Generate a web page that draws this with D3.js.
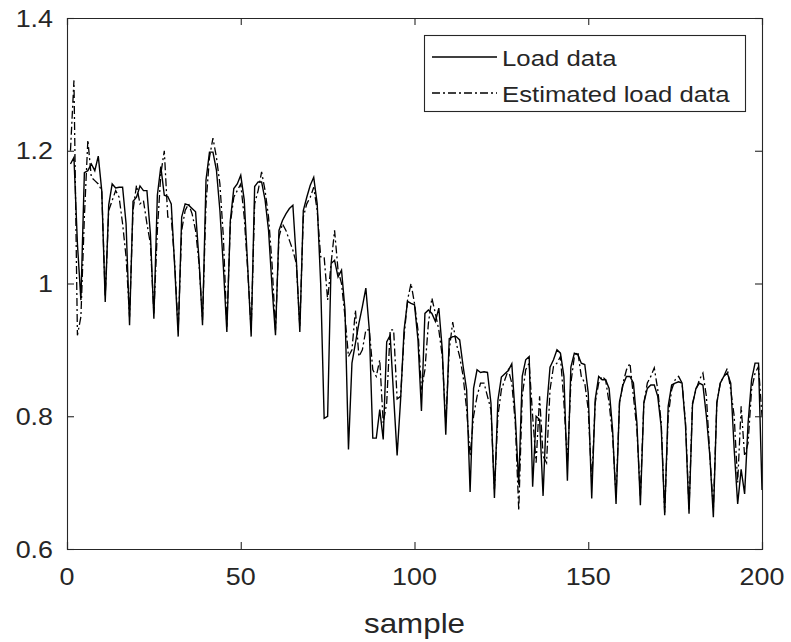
<!DOCTYPE html>
<html>
<head>
<meta charset="utf-8">
<script src="https://cdn.jsdelivr.net/npm/d3@7"></script>
<style>
  html, body { margin: 0; padding: 0; background: #fff; }
  svg { display: block; }
  text { font-family: "Liberation Sans", Arial, Helvetica, sans-serif; fill: #262626; }
</style>
</head>
<body>
<svg id="chart" width="791" height="642"></svg>
<script>
// ---------------- data ----------------
const samples = d3.range(1, 201);
const loadData = [
1.18,1.19,1.06,0.975,1.167,1.17,1.18,1.17,1.192,1.14,
0.972,1.118,1.15,1.144,1.145,1.145,1.09,0.937,1.124,1.13,
1.147,1.14,1.14,1.075,0.947,1.133,1.176,1.133,1.131,1.12,
1.025,0.92,1.10,1.12,1.118,1.113,1.108,1.035,0.937,1.156,
1.198,1.198,1.171,1.11,1.025,0.927,1.095,1.143,1.15,1.163,
1.126,1.025,0.92,1.146,1.153,1.153,1.126,1.08,0.995,0.922,
1.08,1.095,1.105,1.113,1.118,1.035,0.927,1.11,1.13,1.148,
1.16,1.12,1.0,0.797,0.80,1.03,1.035,1.01,1.02,0.96,
0.75,0.88,0.91,0.94,0.965,0.993,0.93,0.767,0.767,0.81,
0.765,0.912,0.922,0.83,0.741,0.825,0.93,0.973,0.97,0.968,
0.915,0.808,0.955,0.96,0.955,0.943,0.963,0.90,0.772,0.917,
0.92,0.92,0.915,0.875,0.84,0.686,0.842,0.87,0.866,0.867,
0.866,0.82,0.677,0.824,0.859,0.864,0.869,0.879,0.80,0.697,
0.86,0.885,0.89,0.694,0.80,0.795,0.68,0.81,0.874,0.885,
0.90,0.895,0.86,0.703,0.874,0.895,0.893,0.88,0.878,0.835,
0.676,0.825,0.86,0.855,0.855,0.842,0.78,0.668,0.822,0.847,
0.86,0.86,0.85,0.79,0.666,0.82,0.842,0.847,0.847,0.83,
0.784,0.651,0.815,0.847,0.85,0.852,0.85,0.785,0.653,0.817,
0.842,0.85,0.847,0.80,0.74,0.648,0.82,0.85,0.86,0.865,
0.85,0.75,0.668,0.72,0.683,0.79,0.855,0.88,0.88,0.689
];
const estimatedData = [
1.20,1.306,0.922,0.95,1.10,1.216,1.16,1.155,1.15,1.14,
0.98,1.11,1.125,1.14,1.13,1.09,1.04,0.95,1.11,1.148,
1.12,1.125,1.09,1.06,0.955,1.08,1.165,1.20,1.10,1.10,
1.03,0.93,1.08,1.11,1.12,1.105,1.08,1.03,0.945,1.12,
1.19,1.219,1.19,1.15,1.07,0.935,1.09,1.13,1.14,1.15,
1.10,1.02,0.93,1.12,1.14,1.168,1.14,1.10,1.03,0.93,
1.07,1.09,1.08,1.065,1.05,1.03,0.935,1.10,1.12,1.13,
1.145,1.11,1.04,1.04,0.975,1.03,1.08,1.02,1.00,0.95,
0.89,0.90,0.96,0.89,0.90,0.93,0.93,0.87,0.86,0.885,
0.79,0.82,0.93,0.93,0.826,0.83,0.92,0.975,1.00,0.97,
0.93,0.84,0.87,0.94,0.978,0.955,0.93,0.89,0.79,0.90,
0.942,0.91,0.89,0.86,0.81,0.74,0.80,0.83,0.85,0.85,
0.83,0.81,0.69,0.80,0.84,0.855,0.87,0.85,0.79,0.658,
0.83,0.87,0.88,0.80,0.73,0.83,0.74,0.73,0.84,0.875,
0.88,0.89,0.82,0.73,0.85,0.89,0.897,0.86,0.85,0.81,
0.70,0.82,0.85,0.86,0.855,0.82,0.77,0.68,0.82,0.85,
0.87,0.88,0.83,0.78,0.68,0.82,0.85,0.86,0.873,0.84,
0.79,0.655,0.80,0.84,0.855,0.86,0.85,0.79,0.66,0.82,
0.84,0.855,0.865,0.83,0.74,0.66,0.82,0.85,0.86,0.872,
0.84,0.80,0.70,0.815,0.74,0.76,0.84,0.865,0.875,0.80
];
const xTicks = [0, 50, 100, 150, 200];
const xTickLabels = ["0", "50", "100", "150", "200"];
const yTicks = [0.6, 0.8, 1.0, 1.2, 1.4];
const yTickLabels = ["0.6", "0.8", "1", "1.2", "1.4"];
const seriesNames = ["Load data", "Estimated load data"];
const xLabel = "sample";

// ---------------- layout ----------------
const L = 67, R = 762, T = 18, B = 549;
const axisColor = "#262626";
const stretch = 1.12; // horizontal stretch of the original picture's text

const svg = d3.select("#chart");
const x = d3.scaleLinear().domain([0, 200]).range([L, R]);
const y = d3.scaleLinear().domain([0.6, 1.4]).range([B, T]);

// lines
const line = d3.line().x((d, i) => x(samples[i])).y(d => y(d));
svg.append("path").datum(loadData)
  .attr("d", line).attr("fill", "none").attr("stroke", "#000")
  .attr("stroke-width", 1.4).attr("stroke-linejoin", "miter");
svg.append("path").datum(estimatedData)
  .attr("d", line).attr("fill", "none").attr("stroke", "#000")
  .attr("stroke-width", 1.3).attr("stroke-dasharray", "8,3,2,3");

// axes (ticks inward, box)
const tk = 7;
const gB = svg.append("g").attr("transform", `translate(0,${B})`)
  .call(d3.axisBottom(x).tickValues(xTicks).tickSize(-tk).tickFormat(""));
const gT = svg.append("g").attr("transform", `translate(0,${T})`)
  .call(d3.axisTop(x).tickValues(xTicks).tickSize(-tk).tickFormat(""));
const gL = svg.append("g").attr("transform", `translate(${L},0)`)
  .call(d3.axisLeft(y).tickValues(yTicks).tickSize(-tk).tickFormat(""));
const gR = svg.append("g").attr("transform", `translate(${R},0)`)
  .call(d3.axisRight(y).tickValues(yTicks).tickSize(-tk).tickFormat(""));
[gB, gT, gL, gR].forEach(g => {
  g.select(".domain").attr("stroke", axisColor).attr("stroke-width", 1.1);
  g.selectAll(".tick line").attr("stroke", axisColor).attr("stroke-width", 1.1);
});

function stext(px, py, str, size, anchor) {
  svg.append("text")
    .attr("transform", `translate(${px},${py}) scale(${stretch},1)`)
    .attr("text-anchor", anchor)
    .style("font-size", size + "px")
    .text(str);
}

// tick labels
xTicks.forEach((t, i) => stext(x(t), 585, xTickLabels[i], 24, "middle"));
yTicks.forEach((t, i) => stext(L - 14, y(t) + 8.5, yTickLabels[i], 24, "end"));

// x label
stext((L + R) / 2, 633, xLabel, 28, "middle");

// legend
const lg = svg.append("g");
lg.append("rect").attr("x", 424.5).attr("y", 35.5).attr("width", 321).attr("height", 76)
  .attr("fill", "#fff").attr("stroke", axisColor).attr("stroke-width", 1.1);
const rowsY = [57, 93];
lg.append("line").attr("x1", 432).attr("x2", 497).attr("y1", rowsY[0]).attr("y2", rowsY[0])
  .attr("stroke", "#000").attr("stroke-width", 1.4);
lg.append("line").attr("x1", 432).attr("x2", 497).attr("y1", rowsY[1]).attr("y2", rowsY[1])
  .attr("stroke", "#000").attr("stroke-width", 1.3).attr("stroke-dasharray", "8,3,2,3");
seriesNames.forEach((n, i) => stext(502, rowsY[i] + 8.5, n, 23, "start"));
</script>
</body>
</html>
